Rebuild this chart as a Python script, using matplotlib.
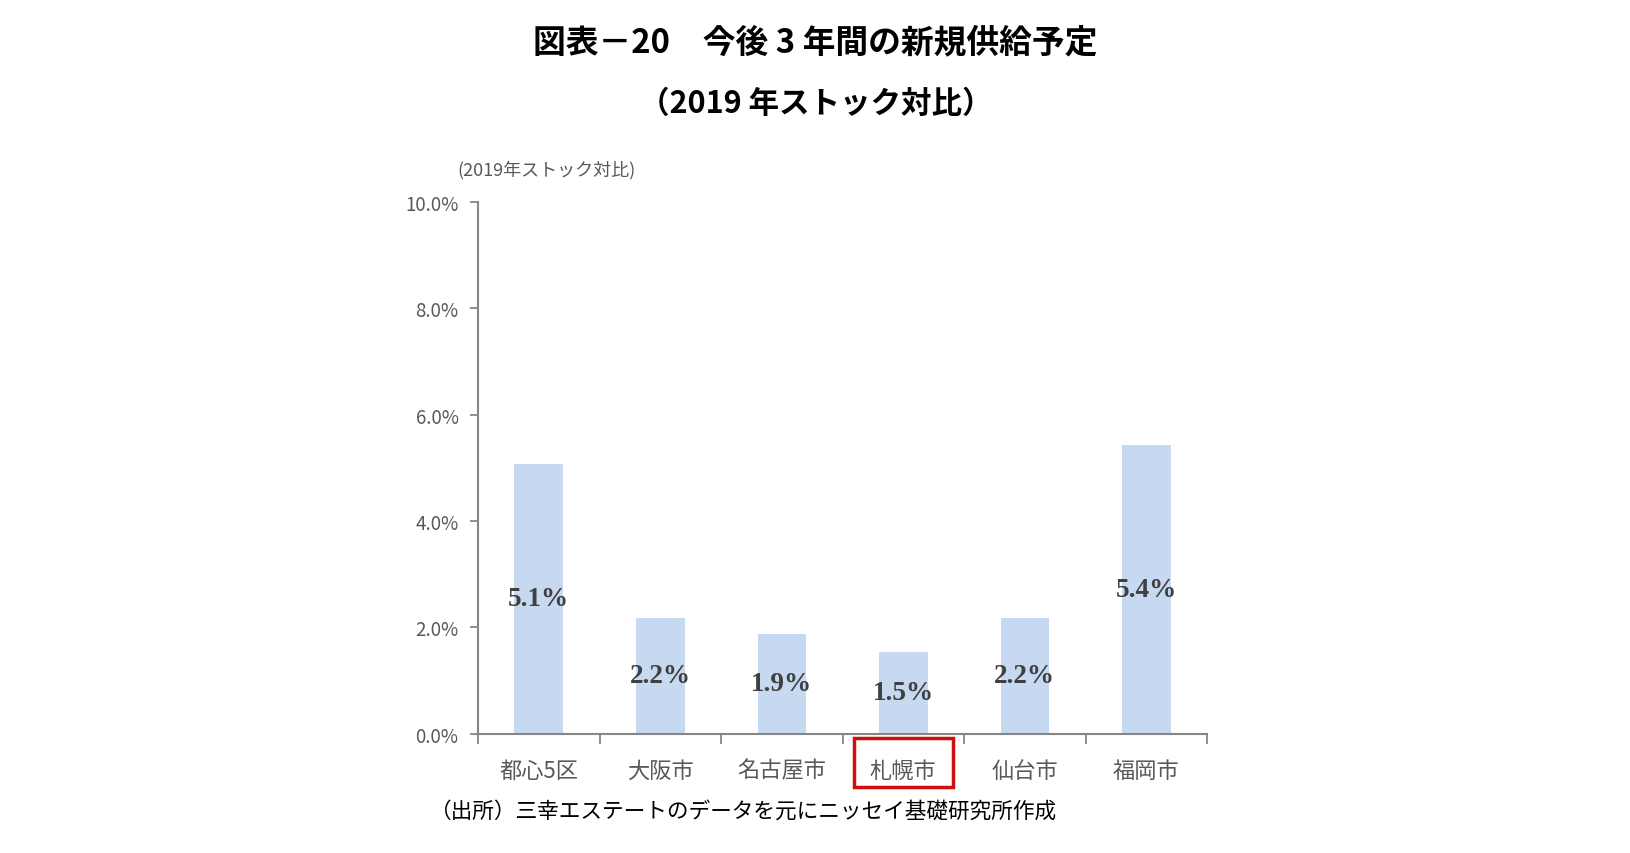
import matplotlib.pyplot as plt
import numpy as np
from matplotlib.patches import Rectangle

plt.rcParams["font.family"] = ["Noto Sans CJK JP", "DejaVu Sans"]

# データ
cities = ["都心5区", "大阪市", "名古屋市", "札幌市", "仙台市", "福岡市"]
supply = [5.08, 2.17, 1.87, 1.54, 2.17, 5.42]
value_labels = ["5.1%", "2.2%", "1.9%", "1.5%", "2.2%", "5.4%"]
yticks = [0, 2, 4, 6, 8, 10]
ytick_labels = ["0.0%", "2.0%", "4.0%", "6.0%", "8.0%", "10.0%"]

title1 = "図表－20　今後 3 年間の新規供給予定"
title2 = "（2019 年ストック対比）"
ylabel = "(2019年ストック対比)"
source = "（出所）三幸エステートのデータを元にニッセイ基礎研究所作成"

axis_gray = "#868686"
text_gray = "#595959"

fig = plt.figure(figsize=(16.31, 8.54), dpi=100)
ax = fig.add_axes([0.2931, 0.1399, 0.447, 0.6224])

x = np.arange(len(cities))
bars = ax.bar(x, supply, width=0.40, color="#C6D9F0", zorder=2)
ax.bar_label(bars, labels=value_labels, label_type="center",
             fontsize=19.5, fontweight="bold", color="#404040",
             family=["Liberation Serif", "DejaVu Serif"])

ax.set_xlim(-0.5, len(cities) - 0.5)
ax.set_ylim(0, 10)

ax.set_yticks(yticks)
ax.set_yticklabels(ytick_labels, fontsize=13.5, color=text_gray)
ax.tick_params(axis="y", direction="out", length=6, width=1.3,
               color=axis_gray, pad=8)

# カテゴリ境界に目盛
ax.set_xticks(np.arange(-0.5, len(cities), 1.0))
ax.set_xticklabels([])
ax.tick_params(axis="x", which="major", direction="out", length=7,
               width=1.3, color=axis_gray)
ax.set_xticks(x, minor=True)
ax.set_xticklabels(cities, minor=True, fontsize=16, color=text_gray)
ax.tick_params(axis="x", which="minor", length=0, pad=18)

for s in ["top", "right"]:
    ax.spines[s].set_visible(False)
for s in ["left", "bottom"]:
    ax.spines[s].set_color(axis_gray)
    ax.spines[s].set_linewidth(1.5)

# 札幌市の赤枠
sapporo = cities.index("札幌市")
x0 = ax.transData.transform((sapporo, 0))[0]
rect = Rectangle(((x0 - 49) / 1631, (854 - 788) / 854), 99 / 1631, 49 / 854,
                 transform=fig.transFigure, fill=False,
                 edgecolor="#D01010", linewidth=2.5, clip_on=False)
fig.patches.append(rect)

fig.text(0.5, 1 - 43 / 854, title1, ha="center", va="center",
         fontsize=23.6, fontweight="bold", color="black")
fig.text(0.5, 1 - 104 / 854, title2, ha="center", va="center",
         fontsize=22, fontweight="bold", color="black")
fig.text(457 / 1631, 1 - 170 / 854, ylabel, ha="left", va="center",
         fontsize=13, color=text_gray)
fig.text(430 / 1631, 1 - 812 / 854, source, ha="left", va="center",
         fontsize=15.6, color="black")

fig.savefig("out.png", dpi=100, facecolor="white")
